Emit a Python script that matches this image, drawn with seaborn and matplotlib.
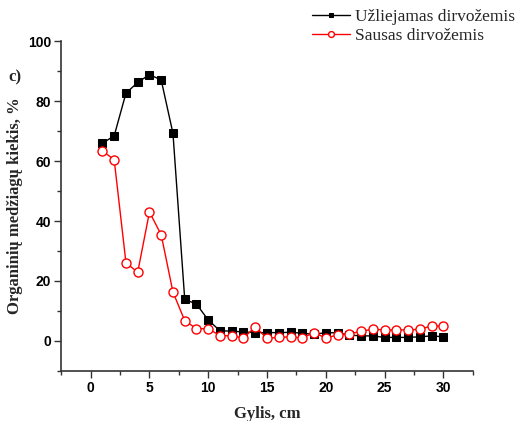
import numpy as np
import pandas as pd
import matplotlib
matplotlib.use("Agg")
import matplotlib.pyplot as plt
import seaborn as sns
from matplotlib.ticker import MultipleLocator

depth = list(range(1, 31))
flooded = [65.9, 68.4, 82.6, 86.2, 88.8, 87.0, 69.2, 13.9, 12.3, 7.0,
           3.4, 3.3, 3.0, 2.8, 2.8, 2.8, 2.9, 2.6, 2.2, 2.8,
           2.7, 2.0, 1.7, 1.7, 1.2, 1.2, 1.2, 1.4, 1.7, 1.4]
dry = [63.4, 60.4, 26.1, 22.9, 43.0, 35.4, 16.3, 6.8, 4.1, 4.1,
       1.8, 1.7, 1.0, 4.7, 0.9, 1.2, 1.4, 1.0, 2.8, 1.0,
       2.0, 2.3, 3.3, 3.9, 3.7, 3.7, 3.7, 3.9, 5.0, 5.0]

df = pd.DataFrame({"depth": depth, "flooded": flooded, "dry": dry})

sns.set_theme(style="ticks")
plt.rcParams['font.family'] = ['Liberation Sans', 'DejaVu Sans']

fig = plt.figure(figsize=(5.18, 4.21), dpi=100)
ax = fig.add_axes([61.3 / 518, 1 - 371 / 421, (472.7 - 61.3) / 518, (371 - 41) / 421])

sns.lineplot(data=df, x="depth", y="flooded", ax=ax, color="black", marker="s",
             markersize=5.5, markeredgecolor="black", linewidth=1,
             label="Užliejamas dirvožemis")
sns.lineplot(data=df, x="depth", y="dry", ax=ax, color="red", marker="o",
             markersize=6.5, markerfacecolor="white", markeredgecolor="red",
             markeredgewidth=1, linewidth=1, label="Sausas dirvožemis")

ax.set_xlim(-2.5, 32.5)
ax.set_ylim(-10, 100)
ax.xaxis.set_major_locator(MultipleLocator(5))
ax.xaxis.set_minor_locator(MultipleLocator(2.5))
ax.yaxis.set_major_locator(MultipleLocator(20))
ax.yaxis.set_minor_locator(MultipleLocator(10))
ax.tick_params(which="major", direction="out", length=5, width=1, colors="#333333",
               labelcolor="black", labelsize=10, pad=2.5)
ax.tick_params(which="minor", direction="out", length=3, width=1, colors="#333333")
for lab in ax.get_xticklabels() + ax.get_yticklabels():
    lab.set_fontweight("bold")

sns.despine(ax=ax)
for s in ["left", "bottom"]:
    ax.spines[s].set_color("#333333")
    ax.spines[s].set_linewidth(1.2)

serif = ['Liberation Serif', 'DejaVu Serif']
ax.set_xlabel("Gylis, cm", family=serif, fontweight="bold", fontsize=12)
ax.set_ylabel("Organinių medžiagų kiekis, %", family=serif, fontweight="bold",
              fontsize=12)
ax.xaxis.set_label_coords(0.5, -0.105)
ax.yaxis.set_label_coords(-0.093, 0.5)

fig.text(15 / 518, 1 - 77 / 421, "c)", family=serif, fontweight="bold", fontsize=12,
         ha="center", va="center")

ax.get_legend().remove()
handles, labels = ax.get_legend_handles_labels()
fig.legend(handles, labels, loc="upper left", bbox_to_anchor=(305 / 518, 1 - 2 / 421),
           frameon=False, prop={"family": serif, "size": 12.5}, handlelength=2.2,
           handletextpad=0.3, labelspacing=0.15, borderaxespad=0, markerscale=0.65)

fig.savefig("out.png", dpi=100)
